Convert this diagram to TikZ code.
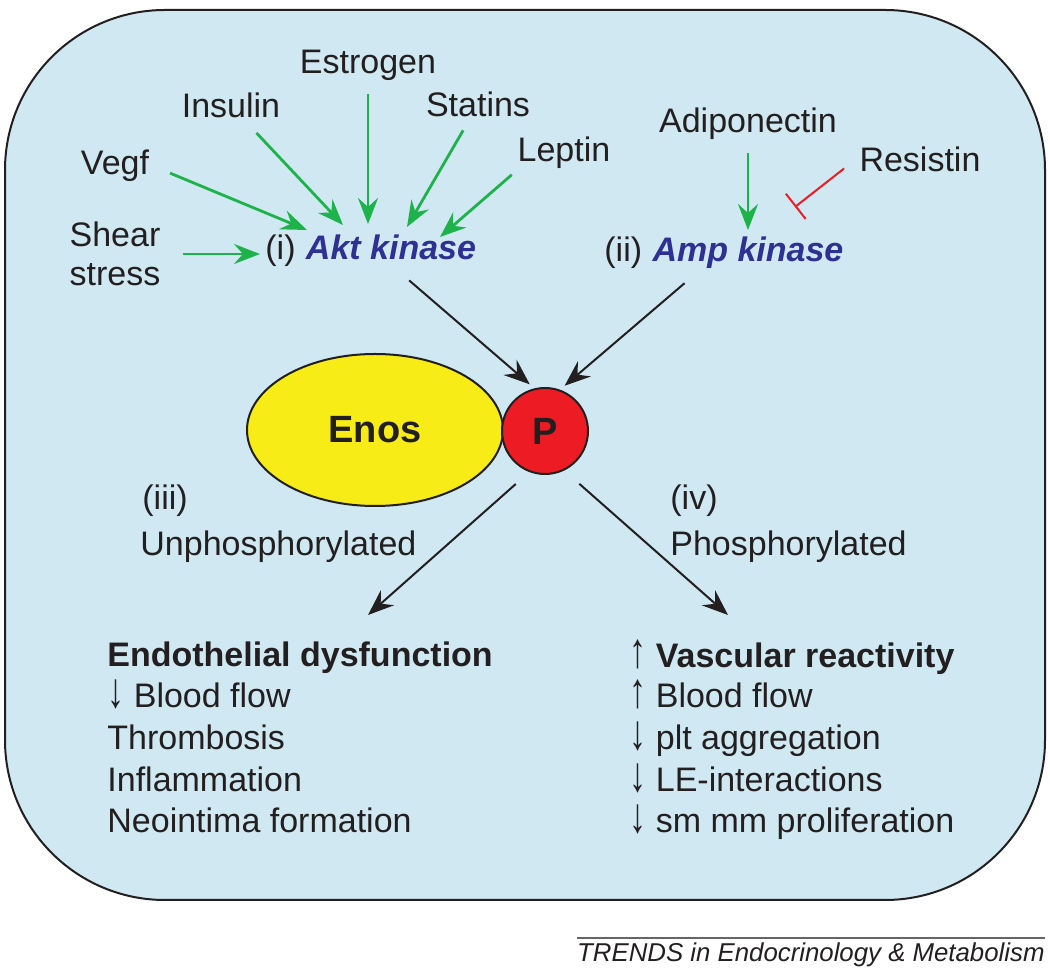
\documentclass[tikz,border=0pt]{standalone}
\usepackage{fontspec}
\setmainfont{Liberation Sans}
\usetikzlibrary{arrows.meta,shapes.geometric}

\definecolor{cellblue}{RGB}{207,232,242}
\definecolor{actgreen}{RGB}{30,178,75}
\definecolor{inhred}{RGB}{237,28,36}
\definecolor{kinblue}{RGB}{46,49,146}
\definecolor{enosyellow}{RGB}{247,236,22}
\definecolor{inkblack}{RGB}{35,31,32}

\newcommand{\up}{\scalebox{1}[1.45]{↑}}
\newcommand{\down}{\scalebox{1}[1.45]{↓}}

\tikzset{
  lbl/.style={inner sep=2pt, anchor=base, text=inkblack, font=\fontsize{17}{20.75}\selectfont},
  kin/.style={lbl, text=kinblue, font=\fontsize{17}{20.75}\selectfont\bfseries\itshape},
  item/.style={lbl, anchor=base west},
  act/.style={draw=actgreen, line width=1.4pt, -{Stealth[length=13pt,width=10pt,inset=4.5pt]}},
  blk/.style={draw=inkblack, line width=1pt, -{Stealth[length=13pt,width=10pt,inset=4.5pt]}},
  inh/.style={draw=inhred, line width=1pt, -{Bar[width=16pt]}},
}

\begin{document}
\begin{tikzpicture}[x=0.5pt,y=-0.5pt]
\useasboundingbox (0,0) rectangle (1050,977);
\draw[fill=cellblue, draw=inkblack, line width=1pt, rounded corners=80pt] (5,10) rectangle (1045,900);

\node[lbl] (estrogen) at (368,74) {Estrogen};
\node[lbl] (insulin) at (231,118) {Insulin};
\node[lbl] (statins) at (478,117) {Statins};
\node[lbl] (leptin) at (564,162) {Leptin};
\node[lbl] (vegf) at (115,175) {Vegf};
\node[lbl, anchor=center, align=center, font=\fontsize{17}{19.5}\selectfont] (shear) at (115,254) {Shear\\stress};
\node[lbl, anchor=base west] (roman-i) at (261,260) {(i)};
\node[kin] (akt) at (391,260) {Akt kinase};

\node[lbl] (adipo) at (748,133) {Adiponectin};
\node[lbl] (resistin) at (920,172) {Resistin};
\node[lbl, anchor=base west] (roman-ii) at (600,262) {(ii)};
\node[kin] (amp) at (748,262) {Amp kinase};

\node[draw=inkblack, line width=1pt, ellipse, fill=enosyellow, minimum width=128pt, minimum height=76pt, inner sep=0pt,
  text=inkblack, font=\fontsize{19}{22}\selectfont\bfseries] (enos) at (375,430) {Enos};
\node[draw=inkblack, line width=1pt, circle, fill=inhred, minimum size=43pt, inner sep=0pt,
  text=inkblack, font=\fontsize{19}{22}\selectfont\bfseries] (p) at (545,431) {P};

\node[item] (roman-iii) at (138,510) {(iii)};
\node[item] (unphos) at (136,556) {Unphosphorylated};
\node[item] (roman-iv) at (666,510) {(iv)};
\node[item] (phos) at (666,556) {Phosphorylated};

\node[item] (dys) at (103,667) {\bfseries Endothelial dysfunction};
\node[item] (dys-a) at (103,708) {\down\ Blood flow};
\node[item] (dys-b) at (103,750) {Thrombosis};
\node[item] (dys-c) at (103,792) {Inflammation};
\node[item] (dys-d) at (103,833) {Neointima formation};

\node[item] (vas) at (625,668) {\up\ \bfseries Vascular reactivity};
\node[item] (vas-a) at (625,708) {\up\ Blood flow};
\node[item] (vas-b) at (625,750) {\down\ plt aggregation};
\node[item] (vas-c) at (625,792) {\down\ LE-interactions};
\node[item] (vas-d) at (625,833) {\down\ sm mm proliferation};

\coordinate (akt-v) at (307,230);
\coordinate (akt-in) at (343,225);
\coordinate (akt-e) at (368,224);
\coordinate (akt-s) at (407,227);
\coordinate (akt-l) at (440,237);
\coordinate (akt-sh) at (260,254);
\coordinate (amp-a) at (748,230);
\coordinate (amp-r) at (795,207);
\coordinate (dys-in) at (368,615);
\coordinate (vas-in) at (728,615);

\draw[act, shorten <=9pt] (vegf.east) -- (akt-v);
\draw[act, shorten <=7pt] (insulin) -- (akt-in);
\draw[act, shorten <=4.5pt] (estrogen) -- (akt-e);
\draw[act, shorten <=5pt] (statins) -- (akt-s);
\draw[act, shorten <=1pt] (leptin.south west) -- (akt-l);
\draw[act, shorten <=9pt] (shear.east) -- (akt-sh);
\draw[act, shorten <=4.5pt] (adipo) -- (amp-a);
\draw[inh, shorten <=7pt] (resistin.west) -- (amp-r);

\draw[blk, shorten <=12pt, shorten >=3pt] (akt.south) -- (p.104);
\draw[blk, shorten <=7.5pt, shorten >=3pt] ([xshift=-26pt]amp.south) -- (p.70);
\draw[blk, shorten <=9pt] (p.-111) -- (dys-in);
\draw[blk, shorten <=10pt] (p.-64) -- (vas-in);

\node[anchor=base east, inner xsep=0pt, inner ysep=2.5pt, text=inkblack, font=\fontsize{12.9}{15}\selectfont\itshape] (trends) at (1045,962) {TRENDS in Endocrinology \& Metabolism};
\draw[draw=black!60, line width=0.8pt] (trends.north west) -- (trends.north east);
\end{tikzpicture}
\end{document}
